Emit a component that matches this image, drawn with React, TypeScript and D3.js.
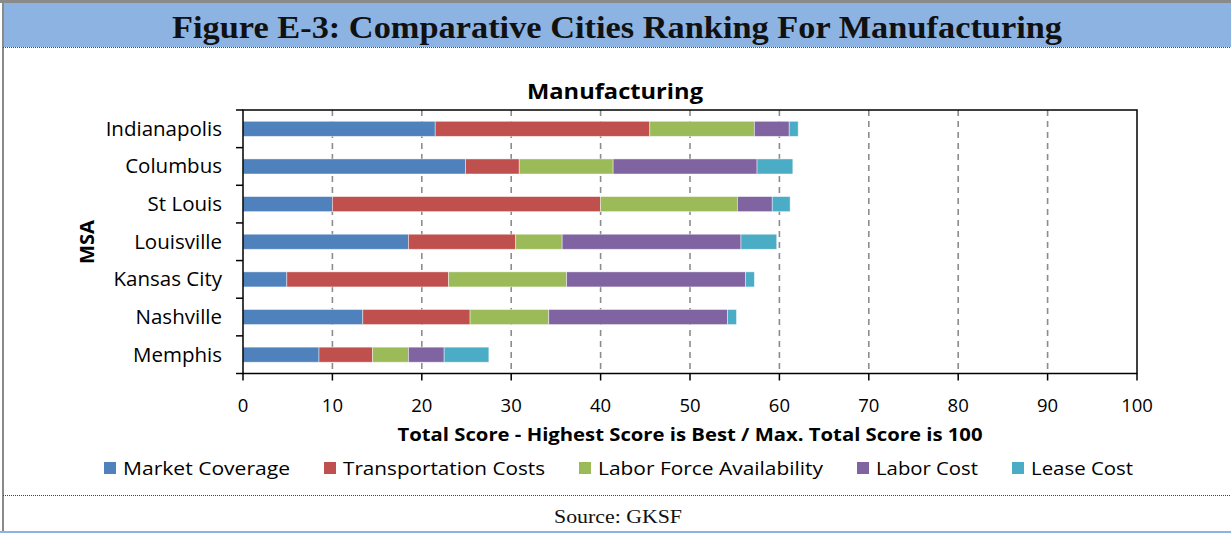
import React, { useEffect, useRef } from "react";
import * as d3 from "d3";

const cities = ["Indianapolis", "Columbus", "St Louis", "Louisville", "Kansas City", "Nashville", "Memphis"];
const seriesNames = ["Market Coverage", "Transportation Costs", "Labor Force Availability", "Labor Cost", "Lease Cost"];
const marketCoverage = [21.5, 24.9, 10.0, 18.5, 4.9, 13.4, 8.5];
const transportationCosts = [24.0, 6.0, 30.0, 12.0, 18.1, 12.0, 6.0];
const laborForceAvailability = [11.7, 10.5, 15.3, 5.2, 13.2, 8.8, 4.0];
const laborCost = [3.9, 16.1, 3.9, 20.0, 20.0, 20.0, 4.0];
const leaseCost = [1.0, 4.0, 2.0, 4.0, 1.0, 1.0, 5.0];
const xTicks = [0, 10, 20, 30, 40, 50, 60, 70, 80, 90, 100];
const colors = ["#4F81BD", "#C0504D", "#9BBB59", "#8064A2", "#4BACC6"];

const W = 1231, H = 533;
const FONT = "'Open Sans', 'Liberation Sans', sans-serif";

export default function App() {
  const ref = useRef<SVGSVGElement>(null);
  useEffect(() => {
    const svg = d3.select(ref.current);
    svg.selectAll("*").remove();

    // frame
    svg.append("rect").attr("x", 0).attr("y", 0).attr("width", W).attr("height", H).attr("fill", "#fff");
    svg.append("rect").attr("x", 3).attr("y", 3).attr("width", W - 3).attr("height", 44).attr("fill", "#8DB3E2");
    svg.append("rect").attr("x", 0).attr("y", 0).attr("width", W).attr("height", 3).attr("fill", "#8a8a8a");
    svg.append("rect").attr("x", 2).attr("y", 0).attr("width", 2).attr("height", H).attr("fill", "#8a8a8a");
    svg.append("rect").attr("x", 0).attr("y", H - 2).attr("width", W).attr("height", 2).attr("fill", "#8DB3E2");
    svg.append("line").attr("x1", 3).attr("x2", W).attr("y1", 47.5).attr("y2", 47.5)
      .attr("stroke", "#444").attr("stroke-width", 1).attr("stroke-dasharray", "1,1");
    svg.append("line").attr("x1", 3).attr("x2", W).attr("y1", 495.5).attr("y2", 495.5)
      .attr("stroke", "#444").attr("stroke-width", 1).attr("stroke-dasharray", "1,1");

    svg.append("text").attr("x", 617).attr("y", 38).attr("text-anchor", "middle")
      .attr("font-family", "'Liberation Serif', serif").attr("font-weight", "bold")
      .attr("font-size", 32).attr("textLength", 890).attr("lengthAdjust", "spacingAndGlyphs")
      .attr("fill", "#111").text("Figure E-3: Comparative Cities Ranking For Manufacturing");

    svg.append("text").attr("x", 618).attr("y", 523).attr("text-anchor", "middle")
      .attr("font-family", "'Liberation Serif', serif").attr("font-size", 19)
      .attr("textLength", 128).attr("lengthAdjust", "spacingAndGlyphs")
      .attr("fill", "#111").text("Source: GKSF");

    // plot
    const left = 243, right = 1137, top = 110, bottom = 373.5;
    const x = d3.scaleLinear().domain([0, 100]).range([left, right]);
    const y = d3.scaleBand().domain(cities).range([top, bottom]).paddingInner(0.6).paddingOuter(0.3);
    const yb = d3.scaleBand().domain(cities).range([top, bottom]);

    const rows = cities.map((c, i) => ({
      city: c,
      "Market Coverage": marketCoverage[i],
      "Transportation Costs": transportationCosts[i],
      "Labor Force Availability": laborForceAvailability[i],
      "Labor Cost": laborCost[i],
      "Lease Cost": leaseCost[i],
    }));
    const stacked = d3.stack<any>().keys(seriesNames)(rows);

    // gridlines
    svg.append("g").selectAll("line").data(xTicks.filter(t => t > 0 && t < 100)).join("line")
      .attr("x1", d => x(d)).attr("x2", d => x(d)).attr("y1", top).attr("y2", bottom)
      .attr("stroke", "#8c8c8c").attr("stroke-width", 1.6).attr("stroke-dasharray", "6,5");

    // bars
    stacked.forEach((s, si) => {
      svg.append("g").selectAll("rect").data(s).join("rect")
        .attr("x", d => x(d[0])).attr("width", d => x(d[1]) - x(d[0]))
        .attr("y", (d: any) => y(d.data.city)!).attr("height", y.bandwidth())
        .attr("fill", colors[si]).attr("stroke", "#ffffff").attr("stroke-opacity", 0.55).attr("stroke-width", 0.8);
    });

    // border
    svg.append("rect").attr("x", left).attr("y", top).attr("width", right - left).attr("height", bottom - top)
      .attr("fill", "none").attr("stroke", "#000").attr("stroke-width", 1.5);

    // y ticks
    const yTickPos = cities.map(c => yb(c)!).concat([bottom]);
    svg.append("g").selectAll("line").data(yTickPos).join("line")
      .attr("x1", left - 7).attr("x2", left).attr("y1", d => d).attr("y2", d => d)
      .attr("stroke", "#000").attr("stroke-width", 1.5);
    svg.append("g").selectAll("text").data(cities).join("text")
      .attr("x", 222).attr("y", d => yb(d)! + yb.bandwidth() / 2 + 7).attr("text-anchor", "end")
      .attr("font-family", FONT).attr("font-size", 20.5).attr("fill", "#000").text(d => d);

    // x ticks
    svg.append("g").selectAll("line").data(xTicks).join("line")
      .attr("x1", d => x(d)).attr("x2", d => x(d)).attr("y1", bottom).attr("y2", bottom + 7)
      .attr("stroke", "#000").attr("stroke-width", 1.5);
    svg.append("g").selectAll("text").data(xTicks).join("text")
      .attr("x", d => x(d)).attr("y", 412).attr("text-anchor", "middle")
      .attr("font-family", FONT).attr("font-size", 18.5).attr("fill", "#000").text(d => String(d));

    svg.append("text").attr("x", 615).attr("y", 99).attr("text-anchor", "middle")
      .attr("font-family", FONT).attr("font-weight", "bold").attr("font-size", 21)
      .attr("textLength", 176).attr("lengthAdjust", "spacingAndGlyphs").text("Manufacturing");
    svg.append("text").attr("x", 690).attr("y", 441).attr("text-anchor", "middle")
      .attr("font-family", FONT).attr("font-weight", "bold").attr("font-size", 17.5)
      .attr("textLength", 585).attr("lengthAdjust", "spacingAndGlyphs")
      .text("Total Score - Highest Score is Best / Max. Total Score is 100");
    svg.append("text").attr("transform", "translate(94,242) rotate(-90)").attr("text-anchor", "middle")
      .attr("font-family", FONT).attr("font-weight", "bold").attr("font-size", 20)
      .attr("textLength", 44).attr("lengthAdjust", "spacingAndGlyphs").text("MSA");

    // legend
    const legendX = [104, 324, 579, 857, 1012];
    const legendW = [167, 202, 225, 102, 102];
    seriesNames.forEach((n, i) => {
      svg.append("rect").attr("x", legendX[i]).attr("y", 462).attr("width", 12).attr("height", 12).attr("fill", colors[i]);
      svg.append("text").attr("x", legendX[i] + 19).attr("y", 475).attr("font-family", FONT).attr("font-size", 18.5)
        .attr("textLength", legendW[i]).attr("lengthAdjust", "spacingAndGlyphs").attr("fill", "#000").text(n);
    });
  }, []);
  return (
    <svg ref={ref} width={W} height={H} style={{ position: "absolute", left: 0, top: 0, display: "block" }} />
  );
}
